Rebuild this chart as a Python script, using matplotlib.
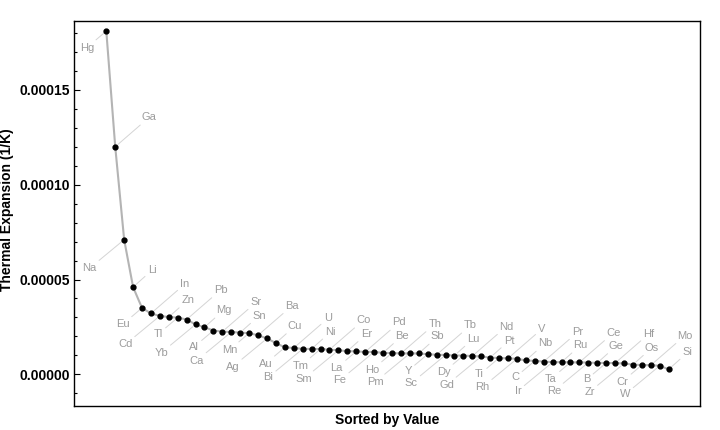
import matplotlib
matplotlib.use("Agg")
import matplotlib.pyplot as plt
import numpy as np
from matplotlib.ticker import FixedLocator, FormatStrFormatter, MultipleLocator

plt.rcParams["font.family"] = ["Liberation Sans", "DejaVu Sans"]

# elements sorted by linear thermal expansion (1/K)
elements = [
    "Hg", "Ga", "Na", "Li", "Eu", "In", "Cd", "Zn", "Tl", "Pb", "Yb", "Mg",
    "Al", "Sr", "Ca", "Sn", "Mn", "Ba", "Ag", "Cu", "Au", "U", "Bi", "Ni",
    "Tm", "Co", "Sm", "Er", "La", "Pd", "Fe", "Be", "Ho", "Th", "Pm", "Sb",
    "Y", "Tb", "Sc", "Lu", "Dy", "Nd", "Gd", "Pt", "Ti", "V", "Rh", "Nb",
    "C", "Pr", "Ir", "Ru", "Ta", "Ce", "Re", "Ge", "B", "Hf", "Zr", "Os",
    "Cr", "Mo", "W", "Si",
]
expansion_e6 = [
    181, 120, 71, 46, 35, 32.1, 30.8, 30.2, 29.9, 28.9, 26.3, 24.8,
    23.1, 22.5, 22.3, 22.0, 21.7, 20.6, 18.9, 16.5, 14.2, 13.9, 13.4, 13.4,
    13.3, 13.0, 12.7, 12.2, 12.1, 11.8, 11.8, 11.3, 11.2, 11.0, 11.0, 11.0,
    10.6, 10.3, 10.2, 9.9, 9.9, 9.6, 9.4, 8.8, 8.6, 8.4, 8.2, 7.3,
    7.1, 6.7, 6.4, 6.4, 6.3, 6.3, 6.2, 6.0, 6.0, 5.9, 5.7, 5.1,
    4.9, 4.8, 4.5, 2.6,
]
y_ticks = [0.0, 0.00005, 0.00010, 0.00015]

values = np.array(expansion_e6) * 1e-6
x = np.arange(1, len(values) + 1)

fig = plt.figure(figsize=(7.2, 4.3), dpi=100)
ax = fig.add_axes([0.1032, 0.0565, 0.8694, 0.8954])

ax.plot(x, values, color="#b4b4b4", lw=1.5, zorder=2)
ax.plot(x, values, "o", color="black", ms=3.5, zorder=3)

# callout offsets in pixels, cycling: lower-left near, upper-right far,
# lower-left far, upper-right near
offsets = [(-19.5, -16.5), (34, 29.5), (-34.5, -28.5), (19, 17)]
for i, (name, xv, yv) in enumerate(zip(elements, x, values)):
    dx, dy = offsets[i % 4]
    ax.annotate(
        name, (xv, yv), xytext=(dx, dy), textcoords="offset pixels",
        ha="center", va="center", fontsize=8, color="#9c9c9c",
        arrowprops=dict(arrowstyle="-", color="#d4d4d4", lw=0.7,
                        shrinkA=0, shrinkB=2.5),
        zorder=1,
    )

ax.set_xlim(-2.585, 67.54)
ax.set_ylim(-1.656e-5, 1.865e-4)

ax.yaxis.set_major_locator(FixedLocator(y_ticks))
ax.yaxis.set_major_formatter(FormatStrFormatter("%.5f"))
ax.yaxis.set_minor_locator(MultipleLocator(1e-5))
ax.tick_params(axis="y", which="major", direction="in", length=4, width=0.8,
               pad=3, labelsize=10)
ax.tick_params(axis="y", which="minor", direction="in", length=2.5, width=0.8)
for lab in ax.get_yticklabels():
    lab.set_fontweight("bold")
ax.set_xticks([])

for sp in ax.spines.values():
    sp.set_linewidth(1.0)

ax.set_xlabel("Sorted by Value", fontsize=10, fontweight="bold", labelpad=5)
ax.set_ylabel("Thermal Expansion (1/K)", fontsize=10, fontweight="bold",
              va="center")
ax.yaxis.set_label_coords(-0.107, 0.51)

fig.savefig("out.png", dpi=100)
